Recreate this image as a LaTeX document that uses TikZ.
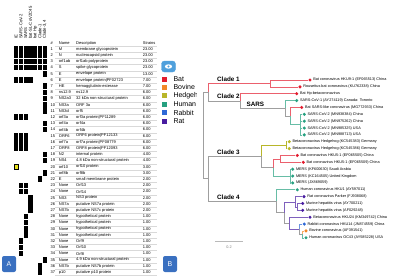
\documentclass[tikz,border=0pt]{standalone}
\usepackage{fontspec}
\setmainfont{Liberation Sans}
\usetikzlibrary{positioning}
\definecolor{bat}{RGB}{226,28,46}
\definecolor{bovine}{RGB}{242,136,40}
\definecolor{hedgehog}{RGB}{184,182,42}
\definecolor{human}{RGB}{38,160,128}
\definecolor{rabbit}{RGB}{46,104,214}
\definecolor{rat}{RGB}{72,28,160}
\definecolor{tagblue}{RGB}{58,112,192}
\definecolor{eyeblue}{RGB}{80,160,220}
\definecolor{hityellow}{RGB}{232,226,30}
\tikzset{
  cellon/.style={fill=black},
  rowline/.style={draw=gray!30, line width=0.3pt},
  br/.style={line width=0.55pt, draw=gray!75},
  dot/.style={circle, minimum size=3.4pt, inner sep=0pt},
  leaf/.style={font=\fontsize{3.8}{4}\selectfont, anchor=west},
  clade/.style={font=\fontsize{6.3}{7}\selectfont\bfseries, anchor=south west},
  tag/.style={fill=tagblue, rounded corners=2pt, minimum width=14pt, minimum height=16pt,
    text=white, font=\fontsize{7}{8}\selectfont},
  legbox/.style={minimum size=5pt},
  legtxt/.style={font=\fontsize{7}{8}\selectfont, anchor=west}
}
\begin{document}
\begin{tikzpicture}[x=1pt, y=-1pt, every node/.style={inner sep=0pt, font=\fontsize{4}{4.5}\selectfont}]
  \useasboundingbox (0,0) rectangle (400,279);
  % Spalten der Matrix
  \foreach \c/\txt in {1/IE, 2/SARS-CoV-2, 3/SARS, 4/bat-SL-CoVZC45, 5/bat Hp, 6/Clade-1, 7/{Clade-3,4}}
    \node[rotate=90, anchor=west, font=\fontsize{4.2}{4.5}\selectfont] (col\c) at ({16.2+(\c-1)*4.75}, 39) {\txt};
  % Matrix
  \foreach \r/\cols in {1/{1,2,3,4,5,6,7}, 2/{1,2,3,4,5,6,7}, 3/{1,2,3,4,5,6,7}, 4/{1,2,3,4,5,6,7},
      5/7, 6/{1,2,3,4}, 7/7, 8/7, 9/7, 10/7, 11/7, 12/{1,2,3}, 13/7, 14/7,
      15/{1,2,3}, 16/{1,2,3}, 17/{1,2,3}, 18/7, 19/7, 21/7, 22/6, 23/{2,3}, 24/{2,3},
      25/4, 26/4, 27/4, 28/3, 29/3, 30/3, 31/3, 32/2, 33/2, 34/2, 35/7, 36/6, 37/6}
    \foreach \c in \cols
      \fill[cellon] ({16.2+(\c-1)*4.75-2.1}, {49+(\r-1)*6.2-2.75}) rectangle ++(4.2,5.5);
  \draw[fill=hityellow, line width=0.5pt] (14.6,164.6) rectangle (18,168.8);
  % Tabelle
  \node[anchor=west] (hnum) at (50.5,43.3) {\#};
  \node[anchor=west] (hname) at (58.7,43.3) {Name};
  \node[anchor=west] (hdesc) at (76,43.3) {Description};
  \node[anchor=west] (hstr) at (142.7,43.3) {Strains};
  \foreach \n/\nm/\ds/\st in {1/M/membrane glycoprotein/23.00, 2/N/nucleocapsid protein/23.00,
      3/orf1ab/orf1ab polyprotein/23.00, 4/S/spike glycoprotein/23.00, 5/E/envelope protein/13.00,
      6/E/envelope protein|PF02723/7.00, 7/HE/hemagglutinin-esterase/7.00, 8/ns12.9/ns12.9/6.00,
      9/NS2a3/32 kDa non-structural protein/6.00, 10/NS3a/ORF 3a/6.00, 11/NS3d/orf5/6.00,
      12/orf3a/orf3a protein|PF11289/6.00, 13/orf4a/orf4a/6.00, 14/orf4b/orf4b/6.00,
      15/ORF6/ORF6 protein|PF12133/6.00, 16/orf7a/orf7a protein|PF08779/6.00,
      17/ORF8/ORF8 protein|PF12093/6.00, 18/N2/internal protein/4.00,
      19/NS4/4.8 kDa non-structural protein/4.00, 20/orf10/orf10 protein/3.00, 21/orf8b/orf8b/3.00,
      22/E/small membrane protein/2.00, 23/None/Orf13/2.00, 24/None/Orf14/2.00,
      25/NS3/NS3 protein/2.00, 26/NS7a/putative NS7a protein/2.00, 27/NS7b/putative NS7c protein/2.00,
      28/None/hypothetical protein/1.00, 29/None/hypothetical protein/1.00,
      30/None/hypothetical protein/1.00, 31/None/hypothetical protein/1.00, 32/None/Orf9/1.00,
      33/None/Orf10/1.00, 34/None/Orf8/1.00, 35/None/4.9 kDa non-structural protein/1.00,
      36/NS7b/putative NS7b protein/1.00, 37/p10/putative p10 protein/1.00} {
    \node[anchor=west] (num\n) at (50.5,{49+(\n-1)*6.2}) {\n};
    \node[anchor=west] (name\n) at (58.7,{49+(\n-1)*6.2}) {\nm};
    \node[anchor=west] (desc\n) at (76,{49+(\n-1)*6.2}) {\ds};
    \node[anchor=west] (str\n) at (142.7,{49+(\n-1)*6.2}) {\st};
    \draw[rowline] (55,{49+(\n-1)*6.2+3.1}) -- (157,{49+(\n-1)*6.2+3.1});
  }
  \draw[rowline] (55,46) -- (157,46);
  % Legende
  \draw[fill=eyeblue, draw=eyeblue, rounded corners=3pt] (161.5,61) rectangle (175.5,72);
  \fill[white] (168.5,66.5) ellipse (3.6pt and 2.2pt);
  \fill[eyeblue] (168.5,66.5) circle (1.2pt);
  \begin{scope}
    \clip (158,74) rectangle (196.5,127);
    \foreach \i/\host/\txt in {1/bat/Bat, 2/bovine/Bovine, 3/hedgehog/Hedgehog, 4/human/Human, 5/rabbit/Rabbit, 6/rat/Rat} {
      \node[legbox, fill=\host] (leg\i) at (164.2,{79+(\i-1)*8.45}) {};
      \node[legtxt] (legt\i) at (173.3,{79+(\i-1)*8.45}) {\txt};
    }
  \end{scope}
  % Baum: innere Knoten
  \coordinate (root) at (203,135.5);
  \coordinate (c12) at (208,92.2);
  \coordinate (c1) at (270,83.4);
  \coordinate (c2) at (240,101);
  \coordinate (sars) at (285,108.3);
  \coordinate (batsl) at (290,116);
  \coordinate (cov2) at (300,124.6);
  \coordinate (c34) at (208,178.7);
  \coordinate (c3) at (261.7,156.4);
  \coordinate (hedge) at (286,145.2);
  \coordinate (hm) at (273.3,167.5);
  \coordinate (hku5) at (280,158.9);
  \coordinate (mers) at (290,176);
  \coordinate (c4) at (276.7,201.1);
  \coordinate (cx) at (284,212.5);
  \coordinate (rats) at (295,201.8);
  \coordinate (murine) at (297.5,206.9);
  \coordinate (cb) at (289.3,223.2);
  \coordinate (rab) at (299,229.2);
  \coordinate (bov) at (302.5,234.4);
  % Baum: Blaetter
  \foreach \k/\x/\host/\txt in {
      1/310/bat/Bat coronavirus HKU9-1 (EF065513) China,
      2/300/bat/Rousettus bat coronavirus (KU762338) China,
      3/296.7/bat/Bat Hp-betacoronavirus/Zhejiang2013 (KF636752) China,
      4/296.7/human/SARS-CoV-1 (AY274119) Canada: Toronto,
      5/301.7/bat/Bat SARS-like coronavirus (MG772933) China,
      6/304.3/human/SARS-CoV-2 (MN938384) China,
      7/304.3/human/SARS-CoV-2 (MN975262) China,
      8/304.3/human/SARS-CoV-2 (MN985325) USA,
      9/304.3/human/SARS-CoV-2 (MN988713) USA,
      10/289.3/hedgehog/Betacoronavirus Hedgehog (KC545383) Germany,
      11/289.3/hedgehog/Betacoronavirus Hedgehog (KC545386) Germany,
      12/297.3/bat/Bat coronavirus HKU5-1 (EF065505) China,
      13/303.3/bat/Bat coronavirus HKU5-1 (EF065509) China,
      14/292.7/human/MERS (KF600630) Saudi Arabia,
      15/292.7/human/MERS (KC164505) United Kingdom,
      16/292.7/human/MERS (JX869059) ,
      17/297.3/human/Human coronavirus HKU1 (AY597011) ,
      18/304/rat/Rat coronavirus Parker (FJ938068) ,
      19/302.7/rat/Murine hepatitis virus (AY700211) ,
      20/302.7/rat/Murine hepatitis virus (AF029248) ,
      21/310/rat/Betacoronavirus HKU24 (KM349742) China,
      22/304.3/rabbit/Rabbit coronavirus HKU14 (JN874559) China,
      23/306/bovine/Bovine coronavirus (AF391541) ,
      24/306/human/Human coronavirus OC43 (AY585228) USA} {
    \node[dot, fill=\host] (l\k) at (\x,{80+(\k-1)*6.86}) {};
    \node[leaf, right=1.2pt of l\k] (t\k) {\txt};
  }
  % Baum: Aeste
  \draw[br] (root) |- (c12);
  \draw[br] (root) |- (c34);
  \draw[br, draw=bat!70] (c12) |- (c1);
  \draw[br] (c12) |- (c2);
  \draw[br, draw=bat!70] (c1) |- (l1);
  \draw[br, draw=bat!70] (c1) |- (l2);
  \draw[br, draw=bat!70] (c2) |- (l3);
  \draw[br] (c2) |- (sars);
  \draw[br, draw=human!70] (sars) |- (l4);
  \draw[br] (sars) |- (batsl);
  \draw[br, draw=bat!70] (batsl) |- (l5);
  \draw[br, draw=human!70] (batsl) |- (cov2);
  \foreach \k in {6,...,9} \draw[br, draw=human!70] (cov2) |- (l\k);
  \draw[br] (c34) |- (c3);
  \draw[br] (c34) |- (c4);
  \draw[br, draw=hedgehog] (c3) |- (hedge);
  \draw[br] (c3) |- (hm);
  \draw[br, draw=hedgehog] (hedge) |- (l10);
  \draw[br, draw=hedgehog] (hedge) |- (l11);
  \draw[br, draw=bat!70] (hm) |- (hku5);
  \draw[br, draw=human!70] (hm) |- (mers);
  \draw[br, draw=bat!70] (hku5) |- (l12);
  \draw[br, draw=bat!70] (hku5) |- (l13);
  \foreach \k in {14,15,16} \draw[br, draw=human!70] (mers) |- (l\k);
  \draw[br, draw=human!70] (c4) |- (l17);
  \draw[br] (c4) |- (cx);
  \draw[br, draw=rat!70] (cx) |- (rats);
  \draw[br, draw=rat!70] (rats) |- (l18);
  \draw[br, draw=rat!70] (rats) |- (murine);
  \draw[br, draw=rat!70] (murine) |- (l19);
  \draw[br, draw=rat!70] (murine) |- (l20);
  \draw[br] (cx) |- (cb);
  \draw[br, draw=rat!70] (cb) |- (l21);
  \draw[br, draw=rat!70] (cb) |- (rab);
  \draw[br, draw=rabbit!70] (rab) |- (l22);
  \draw[br] (rab) |- (bov);
  \draw[br, draw=bovine!70] (bov) |- (l23);
  \draw[br, draw=human!70] (bov) |- (l24);
  % Kladen
  \node[clade] (k1) at (217,81.6) {Clade 1};
  \node[clade] (k2) at (217,99.2) {Clade 2};
  \node[clade] (ks) at (246.5,106.5) {SARS};
  \node[clade] (k3) at (217,154.5) {Clade 3};
  \node[clade] (k4) at (217,199.3) {Clade 4};
  % Massstab
  \coordinate (sb1) at (215,241.7);
  \coordinate (sb2) at (243,241.7);
  \draw[gray!55, line width=0.6pt] (sb1) -- (sb2);
  \node[text=gray, font=\fontsize{3.8}{4}\selectfont] (sbt) at (229,247) {0.2};
  % Panels
  \node[tag] (pa) at (9,264) {A};
  \node[tag] (pb) at (170,264) {B};
\end{tikzpicture}
\end{document}
